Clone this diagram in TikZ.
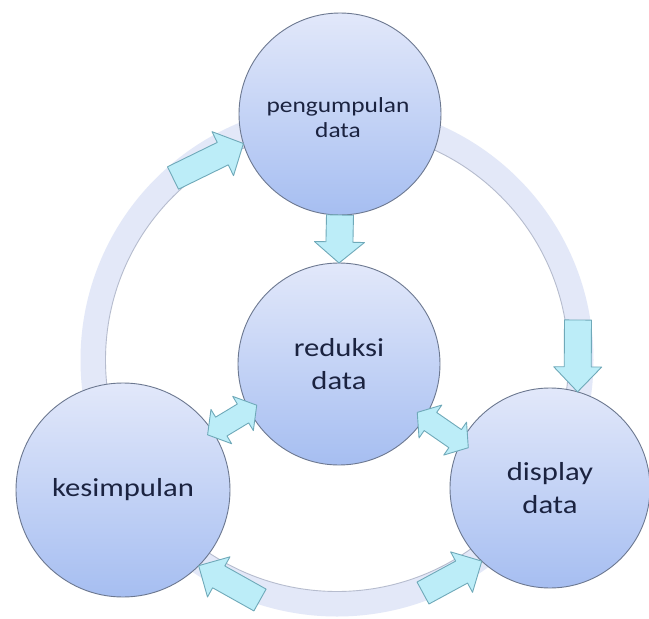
\documentclass[tikz,border=0pt]{standalone}
\usepackage{fontspec}
\newfontfamily\lblfont{Carlito}[FakeStretch=1.18]
\usetikzlibrary{calc}
\definecolor{txt}{HTML}{1B2340}
\definecolor{bubtop}{HTML}{E2E8FA}
\definecolor{bubbot}{HTML}{A6BEF1}
\definecolor{bubline}{HTML}{6C7890}
\definecolor{ringc}{HTML}{E3E8F8}
\definecolor{ringedge}{HTML}{B6BCCE}
\definecolor{arrfill}{HTML}{BCEDF8}
\definecolor{arrline}{HTML}{6FA9B9}
\tikzset{
  bub/.style={circle, draw=bubline, line width=0.9pt, top color=bubtop, bottom color=bubbot,
    inner sep=0pt, outer sep=0pt, align=center, text=txt},
  bigtxt/.style={font=\lblfont\fontsize{26}{33}\selectfont},
  smalltxt/.style={font=\lblfont\fontsize{21.5}{25}\selectfont},
  arrowbox/.style={fill=arrfill, draw=arrline, line width=0.9pt, line join=round},
  ringband/.style={draw=ringc, line width=25pt},
  ringline/.style={draw=ringedge, line width=0.9pt}
}
\newcommand{\blockarr}[5]{%
  \coordinate (bA) at (#1); \coordinate (bB) at (#2);
  \coordinate (bC) at ($(bB)!#5!(bA)$);
  \draw[arrowbox] ($(bA)!#3!90:(bB)$) -- ($(bC)!#3!-90:(bA)$) -- ($(bC)!#4!-90:(bA)$) -- (bB)
    -- ($(bC)!#4!90:(bA)$) -- ($(bC)!#3!90:(bA)$) -- ($(bA)!#3!-90:(bB)$) -- cycle;}
\newcommand{\dblarr}[5]{%
  \coordinate (bA) at (#1); \coordinate (bB) at (#2);
  \coordinate (bC) at ($(bA)!#5!(bB)$);
  \coordinate (bD) at ($(bB)!#5!(bA)$);
  \draw[arrowbox] (bA) -- ($(bC)!#4!90:(bB)$) -- ($(bC)!#3!90:(bB)$) -- ($(bD)!#3!-90:(bA)$)
    -- ($(bD)!#4!-90:(bA)$) -- (bB) -- ($(bD)!#4!90:(bA)$) -- ($(bD)!#3!90:(bA)$)
    -- ($(bC)!#3!-90:(bB)$) -- ($(bC)!#4!-90:(bB)$) -- cycle;}
\begin{document}
\begin{tikzpicture}[x=1pt, y=-1pt]
\useasboundingbox[fill=white] (0,0) rectangle (649,619);
% ring
\coordinate (R) at (337,360);
\draw[ringband] (R) circle[radius=244pt];
\draw[ringline] (R) circle[radius=231.5pt];
% circles
\node[bub, minimum size=202pt] (T) at (340,114) {};
\node[smalltxt, text=txt, align=center] (Tl) at (338,118) {pengumpulan\\data};
\node[bub, minimum size=202pt, bigtxt] (M) at (339,364) {reduksi\\data};
\node[bub, minimum size=214pt, bigtxt] (K) at (123,490) {kesimpulan};
\node[bub, minimum size=200pt, bigtxt] (D) at (550,488) {display\\data};
% tail points on the ring
\coordinate (t1) at (173,178);
\coordinate (t3) at (578,320);
\coordinate (t5) at (260,600);
\coordinate (t6) at (423,593);
\coordinate (d1a) at ($(K.33)!-6pt!(M.207)$);
\coordinate (d1b) at ($(M.207)!-9pt!(K.33)$);
\coordinate (d2a) at ($(M.-32)!-9pt!(D.153)$);
\coordinate (d2b) at ($(D.153)!-9pt!(M.-32)$);
% arrows
\blockarr{t1}{T.197}{12.5pt}{24.5pt}{23pt}
\blockarr{T.south}{M.north}{13.5pt}{25pt}{21pt}
\blockarr{t3}{D.74}{13.5pt}{24pt}{25pt}
\blockarr{t5}{K.-45}{12.5pt}{23pt}{23pt}
\blockarr{t6}{D.227}{12.5pt}{23pt}{23pt}
\dblarr{d1a}{d1b}{11pt}{20pt}{16pt}
\dblarr{d2a}{d2b}{11pt}{20pt}{16pt}
\end{tikzpicture}
\end{document}
